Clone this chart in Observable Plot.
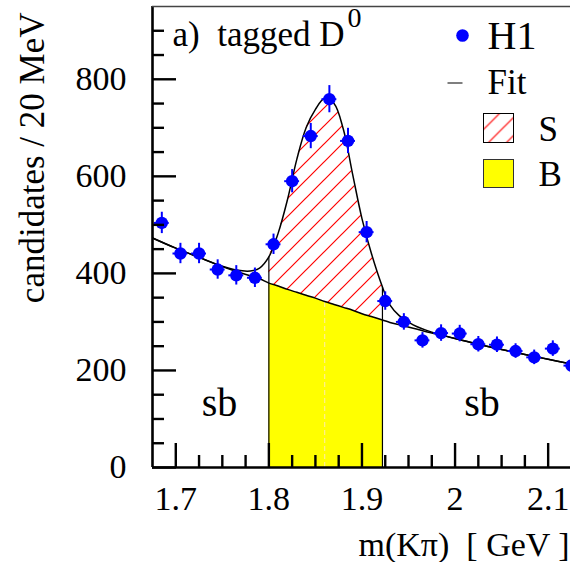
<!DOCTYPE html>
<html>
<head>
<meta charset="utf-8">
<script src="https://cdn.jsdelivr.net/npm/d3@7"></script>
<script src="https://cdn.jsdelivr.net/npm/@observablehq/plot@0.6"></script>
<style>
  html, body { margin: 0; padding: 0; background: white; overflow: hidden; }
  #chart { position: relative; width: 570px; height: 562px; }
</style>
</head>
<body>
<div id="chart"></div>
<script>
// ---- data ----
const binCenters = [1.685, 1.705, 1.725, 1.745, 1.765, 1.785, 1.805, 1.825, 1.845, 1.865, 1.885, 1.905,
                    1.925, 1.945, 1.965, 1.985, 2.005, 2.025, 2.045, 2.065, 2.085, 2.105, 2.125];
const candidates = [504, 441, 441, 408, 396, 391, 460, 590, 683, 759, 673, 485,
                    343, 300, 262, 277, 276, 254, 253, 240, 227, 245, 210];
const errors = [22, 21, 21, 20, 20, 20, 21, 24, 26, 28, 26, 22,
                19, 17, 16, 17, 17, 16, 16, 15, 15, 16, 15];

const fitMass = [1.675, 1.700, 1.725, 1.750, 1.765, 1.780, 1.790, 1.800, 1.810, 1.820, 1.830, 1.840,
                 1.850, 1.860, 1.870, 1.880, 1.890, 1.900, 1.910, 1.922, 1.930, 1.940, 1.955, 1.975,
                 2.000, 2.025, 2.050, 2.075, 2.100, 2.125];
const fitTotal = [473, 452, 433, 415, 407, 405, 411, 434, 483, 552, 635, 700,
                  738, 761, 750, 697, 604, 513, 442, 372, 335, 313, 294, 279,
                  266, 254, 243, 233, 223, 213];
const fitBackground = [473, 452, 433, 414, 404, 395, 389, 380, 374, 367, 361, 355,
                       349, 342, 336, 330, 324, 317, 311, 304, 299, 294, 287, 277,
                       266, 254, 243, 233, 223, 213];

const signalWindow = [1.800, 1.922];
const peakMass = 1.86;

const xTickLabels = [1.7, 1.8, 1.9, 2.0, 2.1];
const xMinorTicks = [1.725, 1.75, 1.775, 1.825, 1.85, 1.875, 1.925, 1.95, 1.975, 2.025, 2.05, 2.075];
const yTickLabels = [0, 200, 400, 600, 800];
const yMinorTicks = [50, 100, 150, 250, 300, 350, 450, 500, 550, 650, 700, 750, 850, 900];

const sidebandLabels = [{x: 1.747, y: 107, t: "sb"}, {x: 2.029, y: 107, t: "sb"}];

// ---- build tables ----
const points = binCenters.map((x, i) => ({x, y: candidates[i], e: errors[i]}));
const fitRows = fitMass.map((x, i) => ({x, fit: fitTotal[i], bg: fitBackground[i]}));
const winRows = fitRows.filter(d => d.x >= signalWindow[0] - 1e-9 && d.x <= signalWindow[1] + 1e-9);
const edgeRows = winRows.filter(d => Math.abs(d.x - signalWindow[0]) < 1e-9 || Math.abs(d.x - signalWindow[1]) < 1e-9);
const peakRow = fitRows.find(d => Math.abs(d.x - peakMass) < 1e-9);

const W = 570, H = 562, mL = 152, mR = 0, mT = 6, mB = 95;
const frameW = W - mL - mR, frameH = H - mT - mB;
const binHalf = 0.008;
const blue = "#0000ff";
const serif = "'Liberation Serif', 'Times New Roman', serif";

const chart = Plot.plot({
  width: W, height: H,
  marginLeft: mL, marginRight: mR, marginTop: mT, marginBottom: mB,
  style: {fontFamily: serif, fontSize: "34px", background: "white", color: "black"},
  x: {domain: [1.675, 2.124], ticks: xTickLabels, tickSize: 0, tickPadding: 18,
      tickFormat: d => String(d), label: null},
  y: {domain: [0, 950], ticks: yTickLabels, tickSize: 0, tickPadding: 26,
      tickFormat: d => String(d), label: null},
  marks: [
    // background (B) region
    Plot.areaY(winRows, {x: "x", y1: 0, y2: "bg", fill: "#ffff00"}),
    // signal (S) region, hatched
    Plot.areaY(winRows, {x: "x", y1: "bg", y2: "fit", fill: "url(#hatchS)", curve: "catmull-rom"}),
    // faint line at peak
    Plot.ruleX([peakRow], {x: "x", y1: 0, y2: "bg", stroke: "#ffe9b0", strokeWidth: 1, strokeDasharray: "5,3"}),
    // window edges
    Plot.ruleX(edgeRows, {x: "x", y1: 0, y2: "fit", stroke: "black", strokeWidth: 1.2}),
    // fit curves
    Plot.line(fitRows, {x: "x", y: "bg", stroke: "black", strokeWidth: 1.5, curve: "catmull-rom", clip: true}),
    Plot.line(fitRows, {x: "x", y: "fit", stroke: "black", strokeWidth: 1.5, curve: "catmull-rom", clip: true}),
    // data with error bars
    Plot.ruleX(points, {x: "x", y1: d => d.y - d.e, y2: d => d.y + d.e, stroke: blue, strokeWidth: 2, clip: true}),
    Plot.ruleY(points, {y: "y", x1: d => d.x - binHalf, x2: d => d.x + binHalf, stroke: blue, strokeWidth: 2, clip: true}),
    Plot.dot(points, {x: "x", y: "y", r: 6.2, fill: blue, stroke: null, clip: true}),
    // axes lines
    Plot.ruleY([0], {stroke: "black", strokeWidth: 2.6}),
    Plot.ruleX([1.675], {stroke: "black", strokeWidth: 2.6}),
    Plot.ruleY([950], {stroke: "#444", strokeWidth: 1.3}),
    // ticks (inward)
    Plot.ruleX(xTickLabels, {stroke: "black", strokeWidth: 2.4, insetTop: frameH - 24}),
    Plot.ruleX(xMinorTicks, {stroke: "black", strokeWidth: 2.4, insetTop: frameH - 12}),
    Plot.ruleY(yTickLabels, {stroke: "black", strokeWidth: 2.4, insetRight: frameW - 24}),
    Plot.ruleY(yMinorTicks, {stroke: "black", strokeWidth: 2.4, insetRight: frameW - 12}),
    // sideband labels
    Plot.text(sidebandLabels, {x: "x", y: "y", text: "t", fontSize: 40, lineAnchor: "bottom"}),
    // title
    Plot.text(["a)  tagged D"], {frameAnchor: "top-left", textAnchor: "start", lineAnchor: "bottom", dx: 20, dy: 39, fontSize: 35}),
    Plot.text(["0"], {frameAnchor: "top-left", textAnchor: "start", lineAnchor: "bottom", dx: 195, dy: 20, fontSize: 28}),
    // axis titles
    Plot.text(["candidates / 20 MeV"], {frameAnchor: "top-left", rotate: -90, textAnchor: "end", lineAnchor: "bottom", dx: -109, dy: 6, fontSize: 35}),
    Plot.text(["m(K\u03c0)  [ GeV ]"], {frameAnchor: "bottom-left", textAnchor: "start", lineAnchor: "bottom", dx: 206, dy: 88, fontSize: 34}),
    // legend
    Plot.dot([0], {frameAnchor: "top-left", dx: 310, dy: 29, r: 6.3, fill: blue, stroke: null}),
    Plot.text(["H1"], {frameAnchor: "top-left", textAnchor: "start", lineAnchor: "bottom", dx: 335, dy: 42, fontSize: 40}),
    Plot.frame({fill: "black", stroke: null, insetLeft: 295, insetRight: frameW - 310, insetTop: 76, insetBottom: frameH - 77}),
    Plot.text(["Fit"], {frameAnchor: "top-left", textAnchor: "start", lineAnchor: "bottom", dx: 335, dy: 87, fontSize: 35}),
    Plot.frame({fill: "url(#hatchS)", stroke: "black", strokeWidth: 1, insetLeft: 331, insetRight: frameW - 361, insetTop: 107, insetBottom: frameH - 136}),
    Plot.text(["S"], {frameAnchor: "top-left", textAnchor: "start", lineAnchor: "bottom", dx: 386, dy: 134, fontSize: 35}),
    Plot.frame({fill: "#ffff00", stroke: "#333", strokeWidth: 1, insetLeft: 331, insetRight: frameW - 361, insetTop: 153, insetBottom: frameH - 181}),
    Plot.text(["B"], {frameAnchor: "top-left", textAnchor: "start", lineAnchor: "bottom", dx: 386, dy: 179, fontSize: 35})
  ]
});

// hatch pattern definition
const ns = "http://www.w3.org/2000/svg";
const svg = chart.tagName.toLowerCase() === "svg" ? chart : chart.querySelector("svg");
const defs = document.createElementNS(ns, "defs");
const pat = document.createElementNS(ns, "pattern");
pat.setAttribute("id", "hatchS");
pat.setAttribute("patternUnits", "userSpaceOnUse");
pat.setAttribute("width", "18");
pat.setAttribute("height", "18");
const pbg = document.createElementNS(ns, "rect");
pbg.setAttribute("width", "18"); pbg.setAttribute("height", "18"); pbg.setAttribute("fill", "white");
pat.appendChild(pbg);
const pth = document.createElementNS(ns, "path");
pth.setAttribute("d", "M0,18L18,0M-4.5,4.5L4.5,-4.5M13.5,22.5L22.5,13.5");
pth.setAttribute("stroke", "#ff0000");
pth.setAttribute("stroke-width", "1.2");
pat.appendChild(pth);
defs.appendChild(pat);
svg.insertBefore(defs, svg.firstChild);

document.getElementById("chart").appendChild(chart);
</script>
</body>
</html>
